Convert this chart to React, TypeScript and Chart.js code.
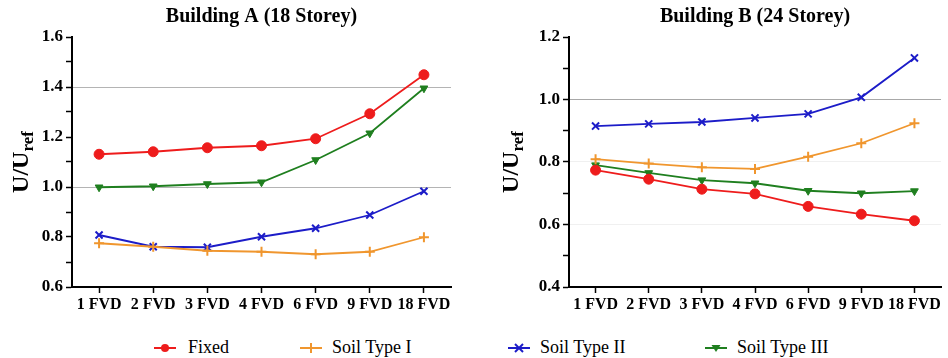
import React, { useEffect, useRef } from 'react';
import { Chart, registerables } from 'chart.js';

Chart.register(...registerables);

const categories = ['1 FVD', '2 FVD', '3 FVD', '4 FVD', '6 FVD', '9 FVD', '18 FVD'];
const seriesNames = ['Fixed', 'Soil Type I', 'Soil Type II', 'Soil Type III'];

const buildingAFixed = [1.131, 1.141, 1.157, 1.165, 1.193, 1.293, 1.449];
const buildingASoilI = [0.775, 0.761, 0.745, 0.741, 0.731, 0.741, 0.799];
const buildingASoilII = [0.808, 0.761, 0.759, 0.801, 0.835, 0.888, 0.983];
const buildingASoilIII = [0.999, 1.003, 1.012, 1.019, 1.108, 1.215, 1.395];

const buildingBFixed = [0.774, 0.745, 0.713, 0.698, 0.658, 0.633, 0.612];
const buildingBSoilI = [0.809, 0.795, 0.783, 0.778, 0.817, 0.86, 0.924];
const buildingBSoilII = [0.915, 0.922, 0.928, 0.941, 0.954, 1.007, 1.133];
const buildingBSoilIII = [0.79, 0.765, 0.742, 0.732, 0.708, 0.7, 0.707];

const titleA = 'Building A (18 Storey)';
const titleB = 'Building B (24 Storey)';
const yRangeA = [0.6, 1.6];
const yRangeB = [0.4, 1.2];

const COLORS = ['#ee1c1c', '#f0962e', '#1c1cc8', '#1f7f1f'];
const SERIF = '"Liberation Serif", "Times New Roman", serif';

const seriesStyle = [
  { pointStyle: 'circle', radius: 5, rotation: 0 },
  { pointStyle: 'cross', radius: 5, rotation: 0 },
  { pointStyle: 'crossRot', radius: 5, rotation: 0 },
  { pointStyle: 'triangle', radius: 4.5, rotation: 180 },
];

const yTitlePlugin = {
  id: 'yTitle',
  afterDraw(chart: any, _args: any, opts: any) {
    const { ctx, chartArea } = chart;
    const cy = (chartArea.top + chartArea.bottom) / 2;
    ctx.save();
    ctx.translate(opts.x, cy);
    ctx.rotate(-Math.PI / 2);
    ctx.fillStyle = '#000';
    ctx.textBaseline = 'alphabetic';
    ctx.textAlign = 'left';
    const mainFont = `bold 24px ${SERIF}`;
    const subFont = `bold 17px ${SERIF}`;
    ctx.font = mainFont;
    const mw = ctx.measureText('U/U').width;
    ctx.font = subFont;
    const sw = ctx.measureText('ref').width;
    const start = -(mw + sw) / 2;
    ctx.font = mainFont;
    ctx.fillText('U/U', start, 0);
    ctx.font = subFont;
    ctx.fillText('ref', start + mw, 5);
    ctx.restore();
  },
};

function makeConfig(
  title: string,
  values: number[][],
  yRange: number[],
  gridColor: (v: number) => string,
  yAxisWidth: number,
  padRight: number,
  yTitleX: number
): any {
  return {
    type: 'line',
    data: {
      labels: categories,
      datasets: values.map((d, i) => ({
        label: seriesNames[i],
        data: d,
        borderColor: COLORS[i],
        backgroundColor: COLORS[i],
        borderWidth: 1.8,
        pointStyle: seriesStyle[i].pointStyle,
        pointRadius: seriesStyle[i].radius,
        pointRotation: seriesStyle[i].rotation,
        pointBorderWidth: i === 1 || i === 2 ? 2 : 1,
        pointBorderColor: COLORS[i],
        pointBackgroundColor: COLORS[i],
        tension: 0,
        fill: false,
      })),
    },
    options: {
      animation: false,
      responsive: false,
      maintainAspectRatio: false,
      layout: { padding: { left: 0, right: padRight, top: 0, bottom: 0 } },
      plugins: {
        legend: { display: false },
        tooltip: { enabled: false },
        title: {
          display: true,
          text: title,
          fullSize: false,
          color: '#000',
          font: { family: SERIF, size: 20, weight: 'bold' },
          padding: { top: 5, bottom: 8 },
        },
        yTitle: { x: yTitleX },
      },
      scales: {
        x: {
          type: 'category',
          offset: true,
          border: { display: true, color: '#000', width: 2 },
          grid: {
            display: true,
            drawOnChartArea: false,
            drawTicks: true,
            tickLength: 6,
            tickColor: '#000',
            tickWidth: 1.5,
          },
          ticks: {
            color: '#000',
            font: { family: SERIF, size: 16, weight: 'bold' },
            maxRotation: 0,
            minRotation: 0,
            autoSkip: false,
            padding: 2,
          },
          afterFit: (scale: any) => {
            scale.height = 33;
          },
        },
        y: {
          min: yRange[0],
          max: yRange[1],
          border: { display: true, color: '#000', width: 2 },
          grid: {
            color: (ctx: any) => (ctx.tick ? gridColor(ctx.tick.value) : 'rgba(0,0,0,0)'),
            lineWidth: 1,
            drawTicks: true,
            tickLength: 6,
            tickColor: '#000',
            tickWidth: 1.5,
          },
          ticks: {
            stepSize: 0.1,
            color: '#000',
            padding: 3,
            font: { family: SERIF, size: 17, weight: 'bold' },
            callback: (v: any) => {
              const n = Math.round(Number(v) * 10);
              return n % 2 === 0 ? (n / 10).toFixed(1) : '';
            },
          },
          afterFit: (scale: any) => {
            scale.width = yAxisWidth;
          },
        },
      },
    },
    plugins: [yTitlePlugin],
  };
}

const gridA = (v: number) => {
  const n = Math.round(v * 10);
  if (n === 14 || n === 10) return '#b4b4b4';
  return 'rgba(0,0,0,0)';
};
const gridB = (v: number) => {
  const n = Math.round(v * 10);
  if (n === 10) return '#a8a8a8';
  if (n === 8 || n === 6) return '#f0f0f0';
  return 'rgba(0,0,0,0)';
};

function ChartCanvas({ config, left, width, height }: any) {
  const ref = useRef<HTMLCanvasElement | null>(null);
  useEffect(() => {
    if (!ref.current) return;
    const chart = new Chart(ref.current, config);
    return () => chart.destroy();
  }, [config]);
  return (
    <canvas
      ref={ref}
      width={width}
      height={height}
      style={{ position: 'absolute', left, top: 0, width, height }}
    />
  );
}

const legendMarkerX = [165, 311, 519, 716];
const legendTextX = [188, 332, 540, 737];

function LegendMarker({ i }: { i: number }) {
  const c = COLORS[i];
  let marker: any = null;
  if (i === 0) marker = <circle cx={11} cy={7} r={4} fill={c} />;
  if (i === 1)
    marker = (
      <g stroke={c} strokeWidth={2}>
        <line x1={11} y1={2} x2={11} y2={12} />
      </g>
    );
  if (i === 2)
    marker = (
      <g stroke={c} strokeWidth={2}>
        <line x1={7} y1={3} x2={15} y2={11} />
        <line x1={15} y1={3} x2={7} y2={11} />
      </g>
    );
  if (i === 3) marker = <polygon points="6.5,4 15.5,4 11,11" fill={c} />;
  return (
    <svg width={22} height={14} style={{ position: 'absolute', left: legendMarkerX[i] - 11, top: 341 }}>
      <line x1={0} y1={7} x2={22} y2={7} stroke={c} strokeWidth={2} />
      {marker}
    </svg>
  );
}

const configA = makeConfig(
  titleA,
  [buildingAFixed, buildingASoilI, buildingASoilII, buildingASoilIII],
  yRangeA,
  gridA,
  72,
  23,
  28
);
const configB = makeConfig(
  titleB,
  [buildingBFixed, buildingBSoilI, buildingBSoilII, buildingBSoilIII],
  yRangeB,
  gridB,
  95,
  3,
  44
);

export default function App() {
  return (
    <div
      style={{
        position: 'absolute',
        left: 0,
        top: 0,
        width: 948,
        height: 358,
        background: '#fff',
        overflow: 'hidden',
      }}
    >
      <ChartCanvas config={configA} left={0} width={474} height={320} />
      <ChartCanvas config={configB} left={474} width={474} height={320} />
      {seriesNames.map((name, i) => (
        <React.Fragment key={name}>
          <LegendMarker i={i} />
          <span
            style={{
              position: 'absolute',
              left: legendTextX[i],
              top: 336,
              fontFamily: SERIF,
              fontSize: 18,
              lineHeight: '22px',
              color: '#000',
              whiteSpace: 'nowrap',
            }}
          >
            {name}
          </span>
        </React.Fragment>
      ))}
    </div>
  );
}
